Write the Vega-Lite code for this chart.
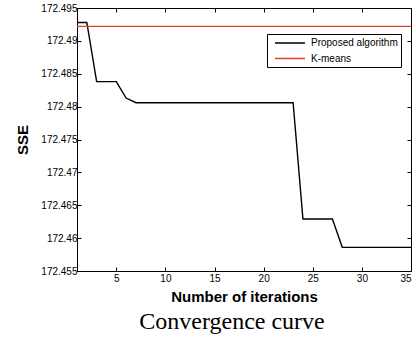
{
  "$schema": "https://vega.github.io/schema/vega-lite/v6.json",
  "width": 334,
  "height": 263,
  "padding": {"left": 15, "top": 3, "right": 5, "bottom": 5},
  "background": "white",
  "title": {"text": "Convergence curve", "orient": "bottom", "font": "Liberation Serif", "fontSize": 24, "fontWeight": "normal", "color": "black", "anchor": "middle", "offset": 6, "dx": -12},
  "config": {
    "view": {"stroke": "black", "strokeWidth": 1},
    "axis": {"labelFont": "Liberation Sans", "labelFontSize": 10, "labelColor": "black", "tickColor": "black", "tickSize": -4, "domainColor": "black", "grid": false, "titleFont": "Liberation Sans", "titleFontSize": 15, "titleFontWeight": "bold", "titleColor": "black"}
  },
  "data": {"values": [
    {"iter": 1, "sse": 172.4928, "method": "Proposed algorithm"},
    {"iter": 2, "sse": 172.4928, "method": "Proposed algorithm"},
    {"iter": 3, "sse": 172.4838, "method": "Proposed algorithm"},
    {"iter": 5, "sse": 172.4838, "method": "Proposed algorithm"},
    {"iter": 6, "sse": 172.4813, "method": "Proposed algorithm"},
    {"iter": 7, "sse": 172.4806, "method": "Proposed algorithm"},
    {"iter": 23, "sse": 172.4806, "method": "Proposed algorithm"},
    {"iter": 24, "sse": 172.4629, "method": "Proposed algorithm"},
    {"iter": 27, "sse": 172.4629, "method": "Proposed algorithm"},
    {"iter": 28, "sse": 172.4586, "method": "Proposed algorithm"},
    {"iter": 35, "sse": 172.4586, "method": "Proposed algorithm"},
    {"iter": 1, "sse": 172.4922, "method": "K-means"},
    {"iter": 35, "sse": 172.4922, "method": "K-means"}
  ]},
  "layer": [
    {
      "mark": {"type": "line", "strokeWidth": 1.4},
      "encoding": {
        "x": {"field": "iter", "type": "quantitative", "scale": {"domain": [1, 35], "nice": false, "zero": false}, "axis": {"values": [5, 10, 15, 20, 25, 30, 35], "title": "Number of iterations", "labelPadding": 6, "titlePadding": 6}},
        "y": {"field": "sse", "type": "quantitative", "scale": {"domain": [172.455, 172.495], "nice": false, "zero": false}, "axis": {"values": [172.455, 172.46, 172.465, 172.47, 172.475, 172.48, 172.485, 172.49, 172.495], "format": ".6~g", "title": "SSE", "labelPadding": 4, "titlePadding": 10}},
        "color": {"field": "method", "type": "nominal", "scale": {"domain": ["Proposed algorithm", "K-means"], "range": ["black", "#e53b2f"]},
          "legend": {"title": null, "orient": "none", "legendX": 190, "legendY": 26, "strokeColor": "black", "fillColor": "white", "padding": 3, "symbolType": "M-3,0L3,0", "symbolSize": 100, "symbolStrokeWidth": 1.5, "labelFont": "Liberation Sans", "labelFontSize": 10, "labelColor": "black", "rowPadding": 4.5, "symbolOffset": 14, "labelOffset": 15, "labelExpr": "datum.label + '  '"}}
      }
    },
    {
      "mark": {"type": "line", "opacity": 0},
      "encoding": {
        "x": {"field": "iter", "type": "quantitative", "axis": {"orient": "top", "values": [5, 10, 15, 20, 25, 30, 35], "labels": false, "title": null}},
        "y": {"field": "sse", "type": "quantitative", "axis": {"orient": "right", "values": [172.455, 172.46, 172.465, 172.47, 172.475, 172.48, 172.485, 172.49, 172.495], "labels": false, "title": null}}
      }
    }
  ],
  "resolve": {"axis": {"x": "independent", "y": "independent"}}
}
